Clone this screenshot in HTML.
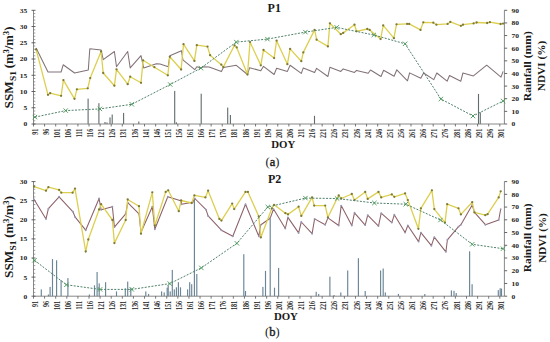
<!DOCTYPE html>
<html><head><meta charset="utf-8"><style>
html,body{margin:0;padding:0;background:#fff;}
svg{display:block;}
text{font-family:"Liberation Serif", serif;fill:#1a1a1a;}
.tl{font-size:6.5px;fill:#222;font-weight:bold;}
.xl{font-size:7.8px;}
.ti{font-size:12px;font-weight:bold;}
.doy{font-size:10.8px;font-weight:bold;}
.sub{font-size:12.5px;}
.subl{stroke:#1a1a1a;stroke-width:0.4px;}
.yl{font-size:12.2px;font-weight:bold;}
.ss{font-size:8.5px;font-weight:bold;}
.sp{font-size:8.5px;}
.rl{font-size:10.8px;font-weight:bold;}
</style></head><body>
<svg width="550" height="342" viewBox="0 0 550 342">
<rect x="87.55" y="98.60" width="1.1" height="25.40" fill="#606c6e"/>
<rect x="98.35" y="103.20" width="1.1" height="20.80" fill="#606c6e"/>
<rect x="104.45" y="122.00" width="1.1" height="2.00" fill="#606c6e"/>
<rect x="106.45" y="122.50" width="1.1" height="1.50" fill="#606c6e"/>
<rect x="109.45" y="117.40" width="1.1" height="6.60" fill="#606c6e"/>
<rect x="111.65" y="114.50" width="1.1" height="9.50" fill="#606c6e"/>
<rect x="123.05" y="112.90" width="1.1" height="11.10" fill="#606c6e"/>
<rect x="138.25" y="121.50" width="1.1" height="2.50" fill="#606c6e"/>
<rect x="174.15" y="90.90" width="1.1" height="33.10" fill="#606c6e"/>
<rect x="175.85" y="122.30" width="1.1" height="1.70" fill="#606c6e"/>
<rect x="200.65" y="93.70" width="1.1" height="30.30" fill="#606c6e"/>
<rect x="227.15" y="107.60" width="1.1" height="16.40" fill="#606c6e"/>
<rect x="229.85" y="115.00" width="1.1" height="9.00" fill="#606c6e"/>
<rect x="313.95" y="115.80" width="1.1" height="8.20" fill="#606c6e"/>
<rect x="477.95" y="93.90" width="1.1" height="30.10" fill="#606c6e"/>
<rect x="479.75" y="112.30" width="1.1" height="11.70" fill="#606c6e"/>
<path d="M33.5,10.3 V124.0 H504.4 V10.3" fill="none" stroke="#7a7a7a" stroke-width="0.9"/>
<line x1="31.5" x2="35.5" y1="124.00" y2="124.00" stroke="#555" stroke-width="0.9"/>
<text transform="translate(27.30,126.40) scale(1.15,1)" class="tl" text-anchor="end">0</text>
<line x1="33.5" x2="35.3" y1="120.75" y2="120.75" stroke="#777" stroke-width="0.7"/>
<line x1="33.5" x2="35.3" y1="117.50" y2="117.50" stroke="#777" stroke-width="0.7"/>
<line x1="33.5" x2="35.3" y1="114.25" y2="114.25" stroke="#777" stroke-width="0.7"/>
<line x1="33.5" x2="35.3" y1="111.01" y2="111.01" stroke="#777" stroke-width="0.7"/>
<line x1="31.5" x2="35.5" y1="107.76" y2="107.76" stroke="#555" stroke-width="0.9"/>
<text transform="translate(27.30,110.16) scale(1.15,1)" class="tl" text-anchor="end">5</text>
<line x1="33.5" x2="35.3" y1="104.51" y2="104.51" stroke="#777" stroke-width="0.7"/>
<line x1="33.5" x2="35.3" y1="101.26" y2="101.26" stroke="#777" stroke-width="0.7"/>
<line x1="33.5" x2="35.3" y1="98.01" y2="98.01" stroke="#777" stroke-width="0.7"/>
<line x1="33.5" x2="35.3" y1="94.76" y2="94.76" stroke="#777" stroke-width="0.7"/>
<line x1="31.5" x2="35.5" y1="91.51" y2="91.51" stroke="#555" stroke-width="0.9"/>
<text transform="translate(27.30,93.91) scale(1.15,1)" class="tl" text-anchor="end">10</text>
<line x1="33.5" x2="35.3" y1="88.27" y2="88.27" stroke="#777" stroke-width="0.7"/>
<line x1="33.5" x2="35.3" y1="85.02" y2="85.02" stroke="#777" stroke-width="0.7"/>
<line x1="33.5" x2="35.3" y1="81.77" y2="81.77" stroke="#777" stroke-width="0.7"/>
<line x1="33.5" x2="35.3" y1="78.52" y2="78.52" stroke="#777" stroke-width="0.7"/>
<line x1="31.5" x2="35.5" y1="75.27" y2="75.27" stroke="#555" stroke-width="0.9"/>
<text transform="translate(27.30,77.67) scale(1.15,1)" class="tl" text-anchor="end">15</text>
<line x1="33.5" x2="35.3" y1="72.02" y2="72.02" stroke="#777" stroke-width="0.7"/>
<line x1="33.5" x2="35.3" y1="68.77" y2="68.77" stroke="#777" stroke-width="0.7"/>
<line x1="33.5" x2="35.3" y1="65.53" y2="65.53" stroke="#777" stroke-width="0.7"/>
<line x1="33.5" x2="35.3" y1="62.28" y2="62.28" stroke="#777" stroke-width="0.7"/>
<line x1="31.5" x2="35.5" y1="59.03" y2="59.03" stroke="#555" stroke-width="0.9"/>
<text transform="translate(27.30,61.43) scale(1.15,1)" class="tl" text-anchor="end">20</text>
<line x1="33.5" x2="35.3" y1="55.78" y2="55.78" stroke="#777" stroke-width="0.7"/>
<line x1="33.5" x2="35.3" y1="52.53" y2="52.53" stroke="#777" stroke-width="0.7"/>
<line x1="33.5" x2="35.3" y1="49.28" y2="49.28" stroke="#777" stroke-width="0.7"/>
<line x1="33.5" x2="35.3" y1="46.03" y2="46.03" stroke="#777" stroke-width="0.7"/>
<line x1="31.5" x2="35.5" y1="42.79" y2="42.79" stroke="#555" stroke-width="0.9"/>
<text transform="translate(27.30,45.19) scale(1.15,1)" class="tl" text-anchor="end">25</text>
<line x1="33.5" x2="35.3" y1="39.54" y2="39.54" stroke="#777" stroke-width="0.7"/>
<line x1="33.5" x2="35.3" y1="36.29" y2="36.29" stroke="#777" stroke-width="0.7"/>
<line x1="33.5" x2="35.3" y1="33.04" y2="33.04" stroke="#777" stroke-width="0.7"/>
<line x1="33.5" x2="35.3" y1="29.79" y2="29.79" stroke="#777" stroke-width="0.7"/>
<line x1="31.5" x2="35.5" y1="26.54" y2="26.54" stroke="#555" stroke-width="0.9"/>
<text transform="translate(27.30,28.94) scale(1.15,1)" class="tl" text-anchor="end">30</text>
<line x1="33.5" x2="35.3" y1="23.29" y2="23.29" stroke="#777" stroke-width="0.7"/>
<line x1="33.5" x2="35.3" y1="20.05" y2="20.05" stroke="#777" stroke-width="0.7"/>
<line x1="33.5" x2="35.3" y1="16.80" y2="16.80" stroke="#777" stroke-width="0.7"/>
<line x1="33.5" x2="35.3" y1="13.55" y2="13.55" stroke="#777" stroke-width="0.7"/>
<line x1="31.5" x2="35.5" y1="10.30" y2="10.30" stroke="#555" stroke-width="0.9"/>
<text transform="translate(27.30,12.70) scale(1.15,1)" class="tl" text-anchor="end">35</text>
<line x1="504.4" x2="507.2" y1="124.00" y2="124.00" stroke="#555" stroke-width="0.9"/>
<text transform="translate(511.40,126.40) scale(1.15,1)" class="tl">0</text>
<line x1="504.4" x2="507.2" y1="111.37" y2="111.37" stroke="#555" stroke-width="0.9"/>
<text transform="translate(511.40,113.77) scale(1.15,1)" class="tl">10</text>
<line x1="504.4" x2="507.2" y1="98.73" y2="98.73" stroke="#555" stroke-width="0.9"/>
<text transform="translate(511.40,101.13) scale(1.15,1)" class="tl">20</text>
<line x1="504.4" x2="507.2" y1="86.10" y2="86.10" stroke="#555" stroke-width="0.9"/>
<text transform="translate(511.40,88.50) scale(1.15,1)" class="tl">30</text>
<line x1="504.4" x2="507.2" y1="73.47" y2="73.47" stroke="#555" stroke-width="0.9"/>
<text transform="translate(511.40,75.87) scale(1.15,1)" class="tl">40</text>
<line x1="504.4" x2="507.2" y1="60.83" y2="60.83" stroke="#555" stroke-width="0.9"/>
<text transform="translate(511.40,63.23) scale(1.15,1)" class="tl">50</text>
<line x1="504.4" x2="507.2" y1="48.20" y2="48.20" stroke="#555" stroke-width="0.9"/>
<text transform="translate(511.40,50.60) scale(1.15,1)" class="tl">60</text>
<line x1="504.4" x2="507.2" y1="35.57" y2="35.57" stroke="#555" stroke-width="0.9"/>
<text transform="translate(511.40,37.97) scale(1.15,1)" class="tl">70</text>
<line x1="504.4" x2="507.2" y1="22.93" y2="22.93" stroke="#555" stroke-width="0.9"/>
<text transform="translate(511.40,25.33) scale(1.15,1)" class="tl">80</text>
<line x1="504.4" x2="507.2" y1="10.30" y2="10.30" stroke="#555" stroke-width="0.9"/>
<text transform="translate(511.40,12.70) scale(1.15,1)" class="tl">90</text>
<line x1="33.50" x2="33.50" y1="124.0" y2="126.5" stroke="#555" stroke-width="0.8"/>
<text transform="translate(37.60,128.8) rotate(-90) scale(0.78,1)" class="tl xl" text-anchor="end">91</text>
<line x1="44.60" x2="44.60" y1="124.0" y2="126.5" stroke="#555" stroke-width="0.8"/>
<text transform="translate(48.70,128.8) rotate(-90) scale(0.78,1)" class="tl xl" text-anchor="end">96</text>
<line x1="55.70" x2="55.70" y1="124.0" y2="126.5" stroke="#555" stroke-width="0.8"/>
<text transform="translate(59.80,128.8) rotate(-90) scale(0.78,1)" class="tl xl" text-anchor="end">101</text>
<line x1="66.81" x2="66.81" y1="124.0" y2="126.5" stroke="#555" stroke-width="0.8"/>
<text transform="translate(70.91,128.8) rotate(-90) scale(0.78,1)" class="tl xl" text-anchor="end">106</text>
<line x1="77.91" x2="77.91" y1="124.0" y2="126.5" stroke="#555" stroke-width="0.8"/>
<text transform="translate(82.01,128.8) rotate(-90) scale(0.78,1)" class="tl xl" text-anchor="end">111</text>
<line x1="89.01" x2="89.01" y1="124.0" y2="126.5" stroke="#555" stroke-width="0.8"/>
<text transform="translate(93.11,128.8) rotate(-90) scale(0.78,1)" class="tl xl" text-anchor="end">116</text>
<line x1="100.11" x2="100.11" y1="124.0" y2="126.5" stroke="#555" stroke-width="0.8"/>
<text transform="translate(104.21,128.8) rotate(-90) scale(0.78,1)" class="tl xl" text-anchor="end">121</text>
<line x1="111.22" x2="111.22" y1="124.0" y2="126.5" stroke="#555" stroke-width="0.8"/>
<text transform="translate(115.32,128.8) rotate(-90) scale(0.78,1)" class="tl xl" text-anchor="end">126</text>
<line x1="122.32" x2="122.32" y1="124.0" y2="126.5" stroke="#555" stroke-width="0.8"/>
<text transform="translate(126.42,128.8) rotate(-90) scale(0.78,1)" class="tl xl" text-anchor="end">131</text>
<line x1="133.42" x2="133.42" y1="124.0" y2="126.5" stroke="#555" stroke-width="0.8"/>
<text transform="translate(137.52,128.8) rotate(-90) scale(0.78,1)" class="tl xl" text-anchor="end">136</text>
<line x1="144.52" x2="144.52" y1="124.0" y2="126.5" stroke="#555" stroke-width="0.8"/>
<text transform="translate(148.62,128.8) rotate(-90) scale(0.78,1)" class="tl xl" text-anchor="end">141</text>
<line x1="155.63" x2="155.63" y1="124.0" y2="126.5" stroke="#555" stroke-width="0.8"/>
<text transform="translate(159.73,128.8) rotate(-90) scale(0.78,1)" class="tl xl" text-anchor="end">146</text>
<line x1="166.73" x2="166.73" y1="124.0" y2="126.5" stroke="#555" stroke-width="0.8"/>
<text transform="translate(170.83,128.8) rotate(-90) scale(0.78,1)" class="tl xl" text-anchor="end">151</text>
<line x1="177.83" x2="177.83" y1="124.0" y2="126.5" stroke="#555" stroke-width="0.8"/>
<text transform="translate(181.93,128.8) rotate(-90) scale(0.78,1)" class="tl xl" text-anchor="end">156</text>
<line x1="188.94" x2="188.94" y1="124.0" y2="126.5" stroke="#555" stroke-width="0.8"/>
<text transform="translate(193.03,128.8) rotate(-90) scale(0.78,1)" class="tl xl" text-anchor="end">161</text>
<line x1="200.04" x2="200.04" y1="124.0" y2="126.5" stroke="#555" stroke-width="0.8"/>
<text transform="translate(204.14,128.8) rotate(-90) scale(0.78,1)" class="tl xl" text-anchor="end">166</text>
<line x1="211.14" x2="211.14" y1="124.0" y2="126.5" stroke="#555" stroke-width="0.8"/>
<text transform="translate(215.24,128.8) rotate(-90) scale(0.78,1)" class="tl xl" text-anchor="end">171</text>
<line x1="222.24" x2="222.24" y1="124.0" y2="126.5" stroke="#555" stroke-width="0.8"/>
<text transform="translate(226.34,128.8) rotate(-90) scale(0.78,1)" class="tl xl" text-anchor="end">176</text>
<line x1="233.34" x2="233.34" y1="124.0" y2="126.5" stroke="#555" stroke-width="0.8"/>
<text transform="translate(237.44,128.8) rotate(-90) scale(0.78,1)" class="tl xl" text-anchor="end">181</text>
<line x1="244.45" x2="244.45" y1="124.0" y2="126.5" stroke="#555" stroke-width="0.8"/>
<text transform="translate(248.55,128.8) rotate(-90) scale(0.78,1)" class="tl xl" text-anchor="end">186</text>
<line x1="255.55" x2="255.55" y1="124.0" y2="126.5" stroke="#555" stroke-width="0.8"/>
<text transform="translate(259.65,128.8) rotate(-90) scale(0.78,1)" class="tl xl" text-anchor="end">191</text>
<line x1="266.65" x2="266.65" y1="124.0" y2="126.5" stroke="#555" stroke-width="0.8"/>
<text transform="translate(270.75,128.8) rotate(-90) scale(0.78,1)" class="tl xl" text-anchor="end">196</text>
<line x1="277.75" x2="277.75" y1="124.0" y2="126.5" stroke="#555" stroke-width="0.8"/>
<text transform="translate(281.86,128.8) rotate(-90) scale(0.78,1)" class="tl xl" text-anchor="end">201</text>
<line x1="288.86" x2="288.86" y1="124.0" y2="126.5" stroke="#555" stroke-width="0.8"/>
<text transform="translate(292.96,128.8) rotate(-90) scale(0.78,1)" class="tl xl" text-anchor="end">206</text>
<line x1="299.96" x2="299.96" y1="124.0" y2="126.5" stroke="#555" stroke-width="0.8"/>
<text transform="translate(304.06,128.8) rotate(-90) scale(0.78,1)" class="tl xl" text-anchor="end">211</text>
<line x1="311.06" x2="311.06" y1="124.0" y2="126.5" stroke="#555" stroke-width="0.8"/>
<text transform="translate(315.16,128.8) rotate(-90) scale(0.78,1)" class="tl xl" text-anchor="end">216</text>
<line x1="322.16" x2="322.16" y1="124.0" y2="126.5" stroke="#555" stroke-width="0.8"/>
<text transform="translate(326.26,128.8) rotate(-90) scale(0.78,1)" class="tl xl" text-anchor="end">221</text>
<line x1="333.27" x2="333.27" y1="124.0" y2="126.5" stroke="#555" stroke-width="0.8"/>
<text transform="translate(337.37,128.8) rotate(-90) scale(0.78,1)" class="tl xl" text-anchor="end">226</text>
<line x1="344.37" x2="344.37" y1="124.0" y2="126.5" stroke="#555" stroke-width="0.8"/>
<text transform="translate(348.47,128.8) rotate(-90) scale(0.78,1)" class="tl xl" text-anchor="end">231</text>
<line x1="355.47" x2="355.47" y1="124.0" y2="126.5" stroke="#555" stroke-width="0.8"/>
<text transform="translate(359.57,128.8) rotate(-90) scale(0.78,1)" class="tl xl" text-anchor="end">236</text>
<line x1="366.57" x2="366.57" y1="124.0" y2="126.5" stroke="#555" stroke-width="0.8"/>
<text transform="translate(370.68,128.8) rotate(-90) scale(0.78,1)" class="tl xl" text-anchor="end">241</text>
<line x1="377.68" x2="377.68" y1="124.0" y2="126.5" stroke="#555" stroke-width="0.8"/>
<text transform="translate(381.78,128.8) rotate(-90) scale(0.78,1)" class="tl xl" text-anchor="end">246</text>
<line x1="388.78" x2="388.78" y1="124.0" y2="126.5" stroke="#555" stroke-width="0.8"/>
<text transform="translate(392.88,128.8) rotate(-90) scale(0.78,1)" class="tl xl" text-anchor="end">251</text>
<line x1="399.88" x2="399.88" y1="124.0" y2="126.5" stroke="#555" stroke-width="0.8"/>
<text transform="translate(403.98,128.8) rotate(-90) scale(0.78,1)" class="tl xl" text-anchor="end">256</text>
<line x1="410.99" x2="410.99" y1="124.0" y2="126.5" stroke="#555" stroke-width="0.8"/>
<text transform="translate(415.09,128.8) rotate(-90) scale(0.78,1)" class="tl xl" text-anchor="end">261</text>
<line x1="422.09" x2="422.09" y1="124.0" y2="126.5" stroke="#555" stroke-width="0.8"/>
<text transform="translate(426.19,128.8) rotate(-90) scale(0.78,1)" class="tl xl" text-anchor="end">266</text>
<line x1="433.19" x2="433.19" y1="124.0" y2="126.5" stroke="#555" stroke-width="0.8"/>
<text transform="translate(437.29,128.8) rotate(-90) scale(0.78,1)" class="tl xl" text-anchor="end">271</text>
<line x1="444.29" x2="444.29" y1="124.0" y2="126.5" stroke="#555" stroke-width="0.8"/>
<text transform="translate(448.39,128.8) rotate(-90) scale(0.78,1)" class="tl xl" text-anchor="end">276</text>
<line x1="455.39" x2="455.39" y1="124.0" y2="126.5" stroke="#555" stroke-width="0.8"/>
<text transform="translate(459.50,128.8) rotate(-90) scale(0.78,1)" class="tl xl" text-anchor="end">281</text>
<line x1="466.50" x2="466.50" y1="124.0" y2="126.5" stroke="#555" stroke-width="0.8"/>
<text transform="translate(470.60,128.8) rotate(-90) scale(0.78,1)" class="tl xl" text-anchor="end">286</text>
<line x1="477.60" x2="477.60" y1="124.0" y2="126.5" stroke="#555" stroke-width="0.8"/>
<text transform="translate(481.70,128.8) rotate(-90) scale(0.78,1)" class="tl xl" text-anchor="end">291</text>
<line x1="488.70" x2="488.70" y1="124.0" y2="126.5" stroke="#555" stroke-width="0.8"/>
<text transform="translate(492.80,128.8) rotate(-90) scale(0.78,1)" class="tl xl" text-anchor="end">296</text>
<line x1="499.81" x2="499.81" y1="124.0" y2="126.5" stroke="#555" stroke-width="0.8"/>
<text transform="translate(503.91,128.8) rotate(-90) scale(0.78,1)" class="tl xl" text-anchor="end">301</text>
<polyline points="36.1,48.0 48.0,72.0 61.1,72.0 63.2,64.8 74.6,73.0 88.3,69.9 89.8,48.8 101.1,49.9 103.2,59.7 114.4,51.5 116.5,66.8 127.7,51.5 130.2,67.9 141.0,55.6 143.7,67.9 156.4,63.8 160.0,64.0 168.2,66.7 169.8,55.8 181.5,50.7 182.9,59.9 194.8,69.7 196.8,66.7 200.9,68.1 203.0,66.7 209.1,67.1 221.4,71.6 223.4,67.5 236.3,65.3 247.5,74.5 249.6,67.7 260.8,70.8 263.5,66.3 274.1,74.5 276.6,68.3 287.4,71.4 290.1,65.3 301.3,73.4 303.3,67.9 314.6,72.4 316.6,68.3 327.9,76.5 329.9,67.3 340.8,71.4 343.2,68.9 354.5,72.4 356.5,70.4 368.2,73.3 370.5,70.0 381.0,76.5 383.6,70.3 394.1,76.3 396.8,69.8 407.5,80.8 409.6,72.9 420.8,78.3 423.6,73.0 433.8,79.6 436.8,73.0 447.1,81.2 449.5,75.5 460.8,81.2 462.9,73.0 473.4,75.9 486.7,65.2 501.0,77.1 503.1,71.4" fill="none" stroke="#827276" stroke-width="1.05" stroke-linejoin="round"/>
<polyline points="36.1,49.4 48.0,94.8 50.2,93.2 61.1,95.8 63.4,80.1 74.5,98.8 76.9,89.3 87.7,88.3 90.2,78.1 101.1,51.5 103.2,73.0 114.4,85.7 116.5,69.3 127.7,84.2 130.2,76.7 141.0,82.8 143.1,60.3 154.4,67.2 167.8,75.3 169.8,56.8 181.1,69.5 183.5,44.2 194.4,60.9 196.8,45.2 207.5,46.6 210.1,55.2 221.3,64.7 223.3,67.1 234.5,45.3 236.7,47.4 247.5,74.5 250.0,42.1 260.8,65.3 263.5,49.9 274.1,58.1 276.6,40.7 287.4,64.2 290.1,48.9 301.3,61.2 303.3,52.4 314.6,29.9 316.6,39.7 327.9,46.4 329.9,23.3 340.8,34.2 343.2,32.9 354.5,24.7 356.5,31.3 367.3,29.0 369.7,29.9 380.6,39.1 383.2,25.4 393.9,38.2 396.5,24.3 407.2,23.9 409.2,23.9 420.5,29.9 423.3,22.3 433.3,22.7 436.4,24.7 447.6,23.9 450.3,21.9 460.9,25.8 463.0,24.7 473.6,23.4 476.6,22.5 487.2,23.0 489.9,22.2 500.6,24.0 503.1,23.6" fill="none" stroke="#dccf50" stroke-width="1.3" stroke-linejoin="round"/>
<circle cx="36.1" cy="49.4" r="1.15" fill="#7e7a34"/>
<circle cx="48" cy="94.8" r="1.15" fill="#7e7a34"/>
<circle cx="50.2" cy="93.2" r="1.15" fill="#7e7a34"/>
<circle cx="61.1" cy="95.8" r="1.15" fill="#7e7a34"/>
<circle cx="63.4" cy="80.1" r="1.15" fill="#7e7a34"/>
<circle cx="74.5" cy="98.8" r="1.15" fill="#7e7a34"/>
<circle cx="76.9" cy="89.3" r="1.15" fill="#7e7a34"/>
<circle cx="87.7" cy="88.3" r="1.15" fill="#7e7a34"/>
<circle cx="90.2" cy="78.1" r="1.15" fill="#7e7a34"/>
<circle cx="101.1" cy="51.5" r="1.15" fill="#7e7a34"/>
<circle cx="103.2" cy="73" r="1.15" fill="#7e7a34"/>
<circle cx="114.4" cy="85.7" r="1.15" fill="#7e7a34"/>
<circle cx="116.5" cy="69.3" r="1.15" fill="#7e7a34"/>
<circle cx="127.7" cy="84.2" r="1.15" fill="#7e7a34"/>
<circle cx="130.2" cy="76.7" r="1.15" fill="#7e7a34"/>
<circle cx="141" cy="82.8" r="1.15" fill="#7e7a34"/>
<circle cx="143.1" cy="60.3" r="1.15" fill="#7e7a34"/>
<circle cx="154.4" cy="67.2" r="1.15" fill="#7e7a34"/>
<circle cx="167.8" cy="75.3" r="1.15" fill="#7e7a34"/>
<circle cx="169.8" cy="56.8" r="1.15" fill="#7e7a34"/>
<circle cx="181.1" cy="69.5" r="1.15" fill="#7e7a34"/>
<circle cx="183.5" cy="44.2" r="1.15" fill="#7e7a34"/>
<circle cx="194.4" cy="60.9" r="1.15" fill="#7e7a34"/>
<circle cx="196.8" cy="45.2" r="1.15" fill="#7e7a34"/>
<circle cx="207.5" cy="46.6" r="1.15" fill="#7e7a34"/>
<circle cx="210.1" cy="55.2" r="1.15" fill="#7e7a34"/>
<circle cx="221.3" cy="64.7" r="1.15" fill="#7e7a34"/>
<circle cx="223.3" cy="67.1" r="1.15" fill="#7e7a34"/>
<circle cx="234.5" cy="45.3" r="1.15" fill="#7e7a34"/>
<circle cx="236.7" cy="47.4" r="1.15" fill="#7e7a34"/>
<circle cx="247.5" cy="74.5" r="1.15" fill="#7e7a34"/>
<circle cx="250" cy="42.1" r="1.15" fill="#7e7a34"/>
<circle cx="260.8" cy="65.3" r="1.15" fill="#7e7a34"/>
<circle cx="263.5" cy="49.9" r="1.15" fill="#7e7a34"/>
<circle cx="274.1" cy="58.1" r="1.15" fill="#7e7a34"/>
<circle cx="276.6" cy="40.7" r="1.15" fill="#7e7a34"/>
<circle cx="287.4" cy="64.2" r="1.15" fill="#7e7a34"/>
<circle cx="290.1" cy="48.9" r="1.15" fill="#7e7a34"/>
<circle cx="301.3" cy="61.2" r="1.15" fill="#7e7a34"/>
<circle cx="303.3" cy="52.4" r="1.15" fill="#7e7a34"/>
<circle cx="314.6" cy="29.9" r="1.15" fill="#7e7a34"/>
<circle cx="316.6" cy="39.7" r="1.15" fill="#7e7a34"/>
<circle cx="327.9" cy="46.4" r="1.15" fill="#7e7a34"/>
<circle cx="329.9" cy="23.3" r="1.15" fill="#7e7a34"/>
<circle cx="340.8" cy="34.2" r="1.15" fill="#7e7a34"/>
<circle cx="343.2" cy="32.9" r="1.15" fill="#7e7a34"/>
<circle cx="354.5" cy="24.7" r="1.15" fill="#7e7a34"/>
<circle cx="356.5" cy="31.3" r="1.15" fill="#7e7a34"/>
<circle cx="367.3" cy="29" r="1.15" fill="#7e7a34"/>
<circle cx="369.7" cy="29.9" r="1.15" fill="#7e7a34"/>
<circle cx="380.6" cy="39.1" r="1.15" fill="#7e7a34"/>
<circle cx="383.2" cy="25.4" r="1.15" fill="#7e7a34"/>
<circle cx="393.9" cy="38.2" r="1.15" fill="#7e7a34"/>
<circle cx="396.5" cy="24.3" r="1.15" fill="#7e7a34"/>
<circle cx="407.2" cy="23.9" r="1.15" fill="#7e7a34"/>
<circle cx="409.2" cy="23.9" r="1.15" fill="#7e7a34"/>
<circle cx="420.5" cy="29.9" r="1.15" fill="#7e7a34"/>
<circle cx="423.3" cy="22.3" r="1.15" fill="#7e7a34"/>
<circle cx="433.3" cy="22.7" r="1.15" fill="#7e7a34"/>
<circle cx="436.4" cy="24.7" r="1.15" fill="#7e7a34"/>
<circle cx="447.6" cy="23.9" r="1.15" fill="#7e7a34"/>
<circle cx="450.3" cy="21.9" r="1.15" fill="#7e7a34"/>
<circle cx="460.9" cy="25.8" r="1.15" fill="#7e7a34"/>
<circle cx="463" cy="24.7" r="1.15" fill="#7e7a34"/>
<circle cx="473.6" cy="23.4" r="1.15" fill="#7e7a34"/>
<circle cx="476.6" cy="22.5" r="1.15" fill="#7e7a34"/>
<circle cx="487.2" cy="23" r="1.15" fill="#7e7a34"/>
<circle cx="489.9" cy="22.2" r="1.15" fill="#7e7a34"/>
<circle cx="500.6" cy="24" r="1.15" fill="#7e7a34"/>
<circle cx="503.1" cy="23.6" r="1.15" fill="#7e7a34"/>
<polyline points="34.9,117.1 65.7,110.6 99.9,108.9 131.8,104.3 170.2,84.5 200.9,68.1 236.3,42.1 267.4,39.1 305.4,32.1 336.7,27.4 373.8,35.0 405.1,43.8 440.9,99.0 473.0,116.0 503.1,101.0" fill="none" stroke="#4f8068" stroke-width="1.0" stroke-dasharray="2,1.4"/>
<path d="M32.699999999999996,114.89999999999999L37.1,119.3M32.699999999999996,119.3L37.1,114.89999999999999" stroke="#459555" stroke-width="0.9"/>
<path d="M63.5,108.39999999999999L67.9,112.8M63.5,112.8L67.9,108.39999999999999" stroke="#459555" stroke-width="0.9"/>
<path d="M97.7,106.7L102.10000000000001,111.10000000000001M97.7,111.10000000000001L102.10000000000001,106.7" stroke="#459555" stroke-width="0.9"/>
<path d="M129.60000000000002,102.1L134.0,106.5M129.60000000000002,106.5L134.0,102.1" stroke="#459555" stroke-width="0.9"/>
<path d="M168.0,82.3L172.39999999999998,86.7M168.0,86.7L172.39999999999998,82.3" stroke="#459555" stroke-width="0.9"/>
<path d="M198.70000000000002,65.89999999999999L203.1,70.3M198.70000000000002,70.3L203.1,65.89999999999999" stroke="#459555" stroke-width="0.9"/>
<path d="M234.10000000000002,39.9L238.5,44.300000000000004M234.10000000000002,44.300000000000004L238.5,39.9" stroke="#459555" stroke-width="0.9"/>
<path d="M265.2,36.9L269.59999999999997,41.300000000000004M265.2,41.300000000000004L269.59999999999997,36.9" stroke="#459555" stroke-width="0.9"/>
<path d="M303.2,29.900000000000002L307.59999999999997,34.300000000000004M303.2,34.300000000000004L307.59999999999997,29.900000000000002" stroke="#459555" stroke-width="0.9"/>
<path d="M334.5,25.2L338.9,29.599999999999998M334.5,29.599999999999998L338.9,25.2" stroke="#459555" stroke-width="0.9"/>
<path d="M371.6,32.8L376.0,37.2M371.6,37.2L376.0,32.8" stroke="#459555" stroke-width="0.9"/>
<path d="M402.90000000000003,41.599999999999994L407.3,46.0M402.90000000000003,46.0L407.3,41.599999999999994" stroke="#459555" stroke-width="0.9"/>
<path d="M438.7,96.8L443.09999999999997,101.2M438.7,101.2L443.09999999999997,96.8" stroke="#459555" stroke-width="0.9"/>
<path d="M470.8,113.8L475.2,118.2M470.8,118.2L475.2,113.8" stroke="#459555" stroke-width="0.9"/>
<path d="M500.90000000000003,98.8L505.3,103.2M500.90000000000003,103.2L505.3,98.8" stroke="#459555" stroke-width="0.9"/>
<text x="267.6" y="11.8" class="ti">P1</text>
<text x="271.2" y="148.3" class="doy">DOY</text>
<text x="265.6" y="166.0" class="sub">(<tspan class="subl">a</tspan>)</text>
<text transform="translate(12.7,108.50) rotate(-90)" class="yl" textLength="27.3" lengthAdjust="spacingAndGlyphs">SSM</text>
<text transform="translate(15.9,80.90) rotate(-90)" class="ss" textLength="10.0" lengthAdjust="spacingAndGlyphs">S1</text>
<text transform="translate(12.8,68.20) rotate(-90)" class="yl" textLength="41.6" lengthAdjust="spacingAndGlyphs">(m<tspan class="sp" dy="-3.8">3</tspan><tspan dy="3.8">/m</tspan><tspan class="sp" dy="-3.8">3</tspan><tspan dy="3.8">)</tspan></text>
<text transform="translate(531.3,66.2) rotate(-90) scale(1.075,1)" class="rl" text-anchor="middle">Rainfall (mm)</text>
<text transform="translate(545.4,66.0) rotate(-90) scale(1.042,1)" class="rl" text-anchor="middle">NDVI (%)</text>
<rect x="40.72" y="289.40" width="1.15" height="6.80" fill="#6a8596"/>
<rect x="47.82" y="294.50" width="1.15" height="1.70" fill="#6a8596"/>
<rect x="49.52" y="286.90" width="1.15" height="9.30" fill="#6a8596"/>
<rect x="51.92" y="259.10" width="1.15" height="37.10" fill="#6a8596"/>
<rect x="56.02" y="260.30" width="1.15" height="35.90" fill="#6a8596"/>
<rect x="60.52" y="280.10" width="1.15" height="16.10" fill="#6a8596"/>
<rect x="67.33" y="278.10" width="1.15" height="18.10" fill="#6a8596"/>
<rect x="88.83" y="294.50" width="1.15" height="1.70" fill="#6a8596"/>
<rect x="93.92" y="285.30" width="1.15" height="10.90" fill="#6a8596"/>
<rect x="96.52" y="272.00" width="1.15" height="24.20" fill="#6a8596"/>
<rect x="98.62" y="283.40" width="1.15" height="12.80" fill="#6a8596"/>
<rect x="105.02" y="282.20" width="1.15" height="14.00" fill="#6a8596"/>
<rect x="115.92" y="291.40" width="1.15" height="4.80" fill="#6a8596"/>
<rect x="124.72" y="288.30" width="1.15" height="7.90" fill="#6a8596"/>
<rect x="127.12" y="281.60" width="1.15" height="14.60" fill="#6a8596"/>
<rect x="130.23" y="287.70" width="1.15" height="8.50" fill="#6a8596"/>
<rect x="145.23" y="291.40" width="1.15" height="4.80" fill="#6a8596"/>
<rect x="148.03" y="293.90" width="1.15" height="2.30" fill="#6a8596"/>
<rect x="161.03" y="291.40" width="1.15" height="4.80" fill="#6a8596"/>
<rect x="163.62" y="292.40" width="1.15" height="3.80" fill="#6a8596"/>
<rect x="166.62" y="287.70" width="1.15" height="8.50" fill="#6a8596"/>
<rect x="167.62" y="285.30" width="1.15" height="10.90" fill="#6a8596"/>
<rect x="169.62" y="291.40" width="1.15" height="4.80" fill="#6a8596"/>
<rect x="171.73" y="269.90" width="1.15" height="26.30" fill="#6a8596"/>
<rect x="173.73" y="289.40" width="1.15" height="6.80" fill="#6a8596"/>
<rect x="175.83" y="287.30" width="1.15" height="8.90" fill="#6a8596"/>
<rect x="177.83" y="282.20" width="1.15" height="14.00" fill="#6a8596"/>
<rect x="179.93" y="287.30" width="1.15" height="8.90" fill="#6a8596"/>
<rect x="187.03" y="289.40" width="1.15" height="6.80" fill="#6a8596"/>
<rect x="189.12" y="282.20" width="1.15" height="14.00" fill="#6a8596"/>
<rect x="191.12" y="284.20" width="1.15" height="12.00" fill="#6a8596"/>
<rect x="193.83" y="198.50" width="1.15" height="97.70" fill="#6a8596"/>
<rect x="196.23" y="274.00" width="1.15" height="22.20" fill="#6a8596"/>
<rect x="243.23" y="254.20" width="1.15" height="42.00" fill="#6a8596"/>
<rect x="244.93" y="291.00" width="1.15" height="5.20" fill="#6a8596"/>
<rect x="262.32" y="286.90" width="1.15" height="9.30" fill="#6a8596"/>
<rect x="264.93" y="270.90" width="1.15" height="25.30" fill="#6a8596"/>
<rect x="269.62" y="217.50" width="1.15" height="78.70" fill="#6a8596"/>
<rect x="273.93" y="287.70" width="1.15" height="8.50" fill="#6a8596"/>
<rect x="278.03" y="267.90" width="1.15" height="28.30" fill="#6a8596"/>
<rect x="315.62" y="291.80" width="1.15" height="4.40" fill="#6a8596"/>
<rect x="318.12" y="293.90" width="1.15" height="2.30" fill="#6a8596"/>
<rect x="329.32" y="276.70" width="1.15" height="19.50" fill="#6a8596"/>
<rect x="333.43" y="295.00" width="1.15" height="1.20" fill="#6a8596"/>
<rect x="340.23" y="292.40" width="1.15" height="3.80" fill="#6a8596"/>
<rect x="347.12" y="270.50" width="1.15" height="25.70" fill="#6a8596"/>
<rect x="357.82" y="258.20" width="1.15" height="38.00" fill="#6a8596"/>
<rect x="364.62" y="291.00" width="1.15" height="5.20" fill="#6a8596"/>
<rect x="380.03" y="270.50" width="1.15" height="25.70" fill="#6a8596"/>
<rect x="382.62" y="268.50" width="1.15" height="27.70" fill="#6a8596"/>
<rect x="384.73" y="292.40" width="1.15" height="3.80" fill="#6a8596"/>
<rect x="397.82" y="293.90" width="1.15" height="2.30" fill="#6a8596"/>
<rect x="424.23" y="294.00" width="1.15" height="2.20" fill="#6a8596"/>
<rect x="450.82" y="290.40" width="1.15" height="5.80" fill="#6a8596"/>
<rect x="453.43" y="290.80" width="1.15" height="5.40" fill="#6a8596"/>
<rect x="455.62" y="293.00" width="1.15" height="3.20" fill="#6a8596"/>
<rect x="469.03" y="251.30" width="1.15" height="44.90" fill="#6a8596"/>
<rect x="471.53" y="284.20" width="1.15" height="12.00" fill="#6a8596"/>
<rect x="497.73" y="290.10" width="1.15" height="6.10" fill="#6a8596"/>
<rect x="499.62" y="288.20" width="1.15" height="8.00" fill="#6a8596"/>
<rect x="500.93" y="288.60" width="1.15" height="7.60" fill="#6a8596"/>
<path d="M33.5,181.6 V296.2 H504.4 V181.6" fill="none" stroke="#7a7a7a" stroke-width="0.9"/>
<line x1="31.5" x2="35.5" y1="296.20" y2="296.20" stroke="#555" stroke-width="0.9"/>
<text transform="translate(27.30,298.60) scale(1.15,1)" class="tl" text-anchor="end">0</text>
<line x1="33.5" x2="35.3" y1="292.38" y2="292.38" stroke="#777" stroke-width="0.7"/>
<line x1="33.5" x2="35.3" y1="288.56" y2="288.56" stroke="#777" stroke-width="0.7"/>
<line x1="33.5" x2="35.3" y1="284.74" y2="284.74" stroke="#777" stroke-width="0.7"/>
<line x1="33.5" x2="35.3" y1="280.92" y2="280.92" stroke="#777" stroke-width="0.7"/>
<line x1="31.5" x2="35.5" y1="277.10" y2="277.10" stroke="#555" stroke-width="0.9"/>
<text transform="translate(27.30,279.50) scale(1.15,1)" class="tl" text-anchor="end">5</text>
<line x1="33.5" x2="35.3" y1="273.28" y2="273.28" stroke="#777" stroke-width="0.7"/>
<line x1="33.5" x2="35.3" y1="269.46" y2="269.46" stroke="#777" stroke-width="0.7"/>
<line x1="33.5" x2="35.3" y1="265.64" y2="265.64" stroke="#777" stroke-width="0.7"/>
<line x1="33.5" x2="35.3" y1="261.82" y2="261.82" stroke="#777" stroke-width="0.7"/>
<line x1="31.5" x2="35.5" y1="258.00" y2="258.00" stroke="#555" stroke-width="0.9"/>
<text transform="translate(27.30,260.40) scale(1.15,1)" class="tl" text-anchor="end">10</text>
<line x1="33.5" x2="35.3" y1="254.18" y2="254.18" stroke="#777" stroke-width="0.7"/>
<line x1="33.5" x2="35.3" y1="250.36" y2="250.36" stroke="#777" stroke-width="0.7"/>
<line x1="33.5" x2="35.3" y1="246.54" y2="246.54" stroke="#777" stroke-width="0.7"/>
<line x1="33.5" x2="35.3" y1="242.72" y2="242.72" stroke="#777" stroke-width="0.7"/>
<line x1="31.5" x2="35.5" y1="238.90" y2="238.90" stroke="#555" stroke-width="0.9"/>
<text transform="translate(27.30,241.30) scale(1.15,1)" class="tl" text-anchor="end">15</text>
<line x1="33.5" x2="35.3" y1="235.08" y2="235.08" stroke="#777" stroke-width="0.7"/>
<line x1="33.5" x2="35.3" y1="231.26" y2="231.26" stroke="#777" stroke-width="0.7"/>
<line x1="33.5" x2="35.3" y1="227.44" y2="227.44" stroke="#777" stroke-width="0.7"/>
<line x1="33.5" x2="35.3" y1="223.62" y2="223.62" stroke="#777" stroke-width="0.7"/>
<line x1="31.5" x2="35.5" y1="219.80" y2="219.80" stroke="#555" stroke-width="0.9"/>
<text transform="translate(27.30,222.20) scale(1.15,1)" class="tl" text-anchor="end">20</text>
<line x1="33.5" x2="35.3" y1="215.98" y2="215.98" stroke="#777" stroke-width="0.7"/>
<line x1="33.5" x2="35.3" y1="212.16" y2="212.16" stroke="#777" stroke-width="0.7"/>
<line x1="33.5" x2="35.3" y1="208.34" y2="208.34" stroke="#777" stroke-width="0.7"/>
<line x1="33.5" x2="35.3" y1="204.52" y2="204.52" stroke="#777" stroke-width="0.7"/>
<line x1="31.5" x2="35.5" y1="200.70" y2="200.70" stroke="#555" stroke-width="0.9"/>
<text transform="translate(27.30,203.10) scale(1.15,1)" class="tl" text-anchor="end">25</text>
<line x1="33.5" x2="35.3" y1="196.88" y2="196.88" stroke="#777" stroke-width="0.7"/>
<line x1="33.5" x2="35.3" y1="193.06" y2="193.06" stroke="#777" stroke-width="0.7"/>
<line x1="33.5" x2="35.3" y1="189.24" y2="189.24" stroke="#777" stroke-width="0.7"/>
<line x1="33.5" x2="35.3" y1="185.42" y2="185.42" stroke="#777" stroke-width="0.7"/>
<line x1="31.5" x2="35.5" y1="181.60" y2="181.60" stroke="#555" stroke-width="0.9"/>
<text transform="translate(27.30,184.00) scale(1.15,1)" class="tl" text-anchor="end">30</text>
<line x1="504.4" x2="507.2" y1="296.20" y2="296.20" stroke="#555" stroke-width="0.9"/>
<text transform="translate(511.40,298.60) scale(1.15,1)" class="tl">0</text>
<line x1="504.4" x2="507.2" y1="283.47" y2="283.47" stroke="#555" stroke-width="0.9"/>
<text transform="translate(511.40,285.87) scale(1.15,1)" class="tl">10</text>
<line x1="504.4" x2="507.2" y1="270.73" y2="270.73" stroke="#555" stroke-width="0.9"/>
<text transform="translate(511.40,273.13) scale(1.15,1)" class="tl">20</text>
<line x1="504.4" x2="507.2" y1="258.00" y2="258.00" stroke="#555" stroke-width="0.9"/>
<text transform="translate(511.40,260.40) scale(1.15,1)" class="tl">30</text>
<line x1="504.4" x2="507.2" y1="245.27" y2="245.27" stroke="#555" stroke-width="0.9"/>
<text transform="translate(511.40,247.67) scale(1.15,1)" class="tl">40</text>
<line x1="504.4" x2="507.2" y1="232.53" y2="232.53" stroke="#555" stroke-width="0.9"/>
<text transform="translate(511.40,234.93) scale(1.15,1)" class="tl">50</text>
<line x1="504.4" x2="507.2" y1="219.80" y2="219.80" stroke="#555" stroke-width="0.9"/>
<text transform="translate(511.40,222.20) scale(1.15,1)" class="tl">60</text>
<line x1="504.4" x2="507.2" y1="207.07" y2="207.07" stroke="#555" stroke-width="0.9"/>
<text transform="translate(511.40,209.47) scale(1.15,1)" class="tl">70</text>
<line x1="504.4" x2="507.2" y1="194.33" y2="194.33" stroke="#555" stroke-width="0.9"/>
<text transform="translate(511.40,196.73) scale(1.15,1)" class="tl">80</text>
<line x1="504.4" x2="507.2" y1="181.60" y2="181.60" stroke="#555" stroke-width="0.9"/>
<text transform="translate(511.40,184.00) scale(1.15,1)" class="tl">90</text>
<line x1="33.50" x2="33.50" y1="296.2" y2="298.7" stroke="#555" stroke-width="0.8"/>
<text transform="translate(37.60,301.0) rotate(-90) scale(0.78,1)" class="tl xl" text-anchor="end">91</text>
<line x1="44.60" x2="44.60" y1="296.2" y2="298.7" stroke="#555" stroke-width="0.8"/>
<text transform="translate(48.70,301.0) rotate(-90) scale(0.78,1)" class="tl xl" text-anchor="end">96</text>
<line x1="55.70" x2="55.70" y1="296.2" y2="298.7" stroke="#555" stroke-width="0.8"/>
<text transform="translate(59.80,301.0) rotate(-90) scale(0.78,1)" class="tl xl" text-anchor="end">101</text>
<line x1="66.81" x2="66.81" y1="296.2" y2="298.7" stroke="#555" stroke-width="0.8"/>
<text transform="translate(70.91,301.0) rotate(-90) scale(0.78,1)" class="tl xl" text-anchor="end">106</text>
<line x1="77.91" x2="77.91" y1="296.2" y2="298.7" stroke="#555" stroke-width="0.8"/>
<text transform="translate(82.01,301.0) rotate(-90) scale(0.78,1)" class="tl xl" text-anchor="end">111</text>
<line x1="89.01" x2="89.01" y1="296.2" y2="298.7" stroke="#555" stroke-width="0.8"/>
<text transform="translate(93.11,301.0) rotate(-90) scale(0.78,1)" class="tl xl" text-anchor="end">116</text>
<line x1="100.11" x2="100.11" y1="296.2" y2="298.7" stroke="#555" stroke-width="0.8"/>
<text transform="translate(104.21,301.0) rotate(-90) scale(0.78,1)" class="tl xl" text-anchor="end">121</text>
<line x1="111.22" x2="111.22" y1="296.2" y2="298.7" stroke="#555" stroke-width="0.8"/>
<text transform="translate(115.32,301.0) rotate(-90) scale(0.78,1)" class="tl xl" text-anchor="end">126</text>
<line x1="122.32" x2="122.32" y1="296.2" y2="298.7" stroke="#555" stroke-width="0.8"/>
<text transform="translate(126.42,301.0) rotate(-90) scale(0.78,1)" class="tl xl" text-anchor="end">131</text>
<line x1="133.42" x2="133.42" y1="296.2" y2="298.7" stroke="#555" stroke-width="0.8"/>
<text transform="translate(137.52,301.0) rotate(-90) scale(0.78,1)" class="tl xl" text-anchor="end">136</text>
<line x1="144.52" x2="144.52" y1="296.2" y2="298.7" stroke="#555" stroke-width="0.8"/>
<text transform="translate(148.62,301.0) rotate(-90) scale(0.78,1)" class="tl xl" text-anchor="end">141</text>
<line x1="155.63" x2="155.63" y1="296.2" y2="298.7" stroke="#555" stroke-width="0.8"/>
<text transform="translate(159.73,301.0) rotate(-90) scale(0.78,1)" class="tl xl" text-anchor="end">146</text>
<line x1="166.73" x2="166.73" y1="296.2" y2="298.7" stroke="#555" stroke-width="0.8"/>
<text transform="translate(170.83,301.0) rotate(-90) scale(0.78,1)" class="tl xl" text-anchor="end">151</text>
<line x1="177.83" x2="177.83" y1="296.2" y2="298.7" stroke="#555" stroke-width="0.8"/>
<text transform="translate(181.93,301.0) rotate(-90) scale(0.78,1)" class="tl xl" text-anchor="end">156</text>
<line x1="188.94" x2="188.94" y1="296.2" y2="298.7" stroke="#555" stroke-width="0.8"/>
<text transform="translate(193.03,301.0) rotate(-90) scale(0.78,1)" class="tl xl" text-anchor="end">161</text>
<line x1="200.04" x2="200.04" y1="296.2" y2="298.7" stroke="#555" stroke-width="0.8"/>
<text transform="translate(204.14,301.0) rotate(-90) scale(0.78,1)" class="tl xl" text-anchor="end">166</text>
<line x1="211.14" x2="211.14" y1="296.2" y2="298.7" stroke="#555" stroke-width="0.8"/>
<text transform="translate(215.24,301.0) rotate(-90) scale(0.78,1)" class="tl xl" text-anchor="end">171</text>
<line x1="222.24" x2="222.24" y1="296.2" y2="298.7" stroke="#555" stroke-width="0.8"/>
<text transform="translate(226.34,301.0) rotate(-90) scale(0.78,1)" class="tl xl" text-anchor="end">176</text>
<line x1="233.34" x2="233.34" y1="296.2" y2="298.7" stroke="#555" stroke-width="0.8"/>
<text transform="translate(237.44,301.0) rotate(-90) scale(0.78,1)" class="tl xl" text-anchor="end">181</text>
<line x1="244.45" x2="244.45" y1="296.2" y2="298.7" stroke="#555" stroke-width="0.8"/>
<text transform="translate(248.55,301.0) rotate(-90) scale(0.78,1)" class="tl xl" text-anchor="end">186</text>
<line x1="255.55" x2="255.55" y1="296.2" y2="298.7" stroke="#555" stroke-width="0.8"/>
<text transform="translate(259.65,301.0) rotate(-90) scale(0.78,1)" class="tl xl" text-anchor="end">191</text>
<line x1="266.65" x2="266.65" y1="296.2" y2="298.7" stroke="#555" stroke-width="0.8"/>
<text transform="translate(270.75,301.0) rotate(-90) scale(0.78,1)" class="tl xl" text-anchor="end">196</text>
<line x1="277.75" x2="277.75" y1="296.2" y2="298.7" stroke="#555" stroke-width="0.8"/>
<text transform="translate(281.86,301.0) rotate(-90) scale(0.78,1)" class="tl xl" text-anchor="end">201</text>
<line x1="288.86" x2="288.86" y1="296.2" y2="298.7" stroke="#555" stroke-width="0.8"/>
<text transform="translate(292.96,301.0) rotate(-90) scale(0.78,1)" class="tl xl" text-anchor="end">206</text>
<line x1="299.96" x2="299.96" y1="296.2" y2="298.7" stroke="#555" stroke-width="0.8"/>
<text transform="translate(304.06,301.0) rotate(-90) scale(0.78,1)" class="tl xl" text-anchor="end">211</text>
<line x1="311.06" x2="311.06" y1="296.2" y2="298.7" stroke="#555" stroke-width="0.8"/>
<text transform="translate(315.16,301.0) rotate(-90) scale(0.78,1)" class="tl xl" text-anchor="end">216</text>
<line x1="322.16" x2="322.16" y1="296.2" y2="298.7" stroke="#555" stroke-width="0.8"/>
<text transform="translate(326.26,301.0) rotate(-90) scale(0.78,1)" class="tl xl" text-anchor="end">221</text>
<line x1="333.27" x2="333.27" y1="296.2" y2="298.7" stroke="#555" stroke-width="0.8"/>
<text transform="translate(337.37,301.0) rotate(-90) scale(0.78,1)" class="tl xl" text-anchor="end">226</text>
<line x1="344.37" x2="344.37" y1="296.2" y2="298.7" stroke="#555" stroke-width="0.8"/>
<text transform="translate(348.47,301.0) rotate(-90) scale(0.78,1)" class="tl xl" text-anchor="end">231</text>
<line x1="355.47" x2="355.47" y1="296.2" y2="298.7" stroke="#555" stroke-width="0.8"/>
<text transform="translate(359.57,301.0) rotate(-90) scale(0.78,1)" class="tl xl" text-anchor="end">236</text>
<line x1="366.57" x2="366.57" y1="296.2" y2="298.7" stroke="#555" stroke-width="0.8"/>
<text transform="translate(370.68,301.0) rotate(-90) scale(0.78,1)" class="tl xl" text-anchor="end">241</text>
<line x1="377.68" x2="377.68" y1="296.2" y2="298.7" stroke="#555" stroke-width="0.8"/>
<text transform="translate(381.78,301.0) rotate(-90) scale(0.78,1)" class="tl xl" text-anchor="end">246</text>
<line x1="388.78" x2="388.78" y1="296.2" y2="298.7" stroke="#555" stroke-width="0.8"/>
<text transform="translate(392.88,301.0) rotate(-90) scale(0.78,1)" class="tl xl" text-anchor="end">251</text>
<line x1="399.88" x2="399.88" y1="296.2" y2="298.7" stroke="#555" stroke-width="0.8"/>
<text transform="translate(403.98,301.0) rotate(-90) scale(0.78,1)" class="tl xl" text-anchor="end">256</text>
<line x1="410.99" x2="410.99" y1="296.2" y2="298.7" stroke="#555" stroke-width="0.8"/>
<text transform="translate(415.09,301.0) rotate(-90) scale(0.78,1)" class="tl xl" text-anchor="end">261</text>
<line x1="422.09" x2="422.09" y1="296.2" y2="298.7" stroke="#555" stroke-width="0.8"/>
<text transform="translate(426.19,301.0) rotate(-90) scale(0.78,1)" class="tl xl" text-anchor="end">266</text>
<line x1="433.19" x2="433.19" y1="296.2" y2="298.7" stroke="#555" stroke-width="0.8"/>
<text transform="translate(437.29,301.0) rotate(-90) scale(0.78,1)" class="tl xl" text-anchor="end">271</text>
<line x1="444.29" x2="444.29" y1="296.2" y2="298.7" stroke="#555" stroke-width="0.8"/>
<text transform="translate(448.39,301.0) rotate(-90) scale(0.78,1)" class="tl xl" text-anchor="end">276</text>
<line x1="455.39" x2="455.39" y1="296.2" y2="298.7" stroke="#555" stroke-width="0.8"/>
<text transform="translate(459.50,301.0) rotate(-90) scale(0.78,1)" class="tl xl" text-anchor="end">281</text>
<line x1="466.50" x2="466.50" y1="296.2" y2="298.7" stroke="#555" stroke-width="0.8"/>
<text transform="translate(470.60,301.0) rotate(-90) scale(0.78,1)" class="tl xl" text-anchor="end">286</text>
<line x1="477.60" x2="477.60" y1="296.2" y2="298.7" stroke="#555" stroke-width="0.8"/>
<text transform="translate(481.70,301.0) rotate(-90) scale(0.78,1)" class="tl xl" text-anchor="end">291</text>
<line x1="488.70" x2="488.70" y1="296.2" y2="298.7" stroke="#555" stroke-width="0.8"/>
<text transform="translate(492.80,301.0) rotate(-90) scale(0.78,1)" class="tl xl" text-anchor="end">296</text>
<line x1="499.81" x2="499.81" y1="296.2" y2="298.7" stroke="#555" stroke-width="0.8"/>
<text transform="translate(503.91,301.0) rotate(-90) scale(0.78,1)" class="tl xl" text-anchor="end">301</text>
<polyline points="34.1,199.5 46.0,218.9 48.4,208.7 59.1,196.8 73.0,211.8 75.0,216.9 85.7,230.2 99.1,198.5 101.1,209.7 112.4,206.7 114.4,227.1 125.7,213.8 127.7,202.6 139.0,213.8 141.0,232.2 152.3,206.7 154.8,229.2 167.8,196.8 181.5,200.9 181.5,204.2 192.7,202.2 194.8,198.5 206.0,209.7 208.1,215.9 221.4,230.2 232.8,236.3 245.5,204.2 258.8,236.3 260.6,225.0 270.2,218.2 273.5,209.1 285.3,228.5 287.9,217.4 298.6,232.9 301.3,222.0 312.1,233.7 314.6,218.9 325.2,224.7 327.9,217.9 338.7,225.5 341.2,205.6 351.8,225.5 354.5,212.8 365.2,225.1 367.7,215.2 378.5,226.1 381.2,213.2 391.8,222.6 394.3,214.8 405.1,232.6 407.8,225.5 418.6,241.6 420.9,232.7 431.4,245.7 434.3,237.2 445.9,251.8 447.4,239.8 458.5,226.7 460.9,224.7 472.2,205.0 474.5,212.3 485.4,224.7 498.7,220.0 500.7,209.1" fill="none" stroke="#8c6068" stroke-width="1.05" stroke-linejoin="round"/>
<circle cx="34.1" cy="199.5" r="0.95" fill="#9c97b5"/>
<circle cx="46" cy="218.9" r="0.95" fill="#9c97b5"/>
<circle cx="48.4" cy="208.7" r="0.95" fill="#9c97b5"/>
<circle cx="59.1" cy="196.8" r="0.95" fill="#9c97b5"/>
<circle cx="73" cy="211.8" r="0.95" fill="#9c97b5"/>
<circle cx="75" cy="216.9" r="0.95" fill="#9c97b5"/>
<circle cx="85.7" cy="230.2" r="0.95" fill="#9c97b5"/>
<circle cx="99.1" cy="198.5" r="0.95" fill="#9c97b5"/>
<circle cx="101.1" cy="209.7" r="0.95" fill="#9c97b5"/>
<circle cx="112.4" cy="206.7" r="0.95" fill="#9c97b5"/>
<circle cx="114.4" cy="227.1" r="0.95" fill="#9c97b5"/>
<circle cx="125.7" cy="213.8" r="0.95" fill="#9c97b5"/>
<circle cx="127.7" cy="202.6" r="0.95" fill="#9c97b5"/>
<circle cx="139" cy="213.8" r="0.95" fill="#9c97b5"/>
<circle cx="141" cy="232.2" r="0.95" fill="#9c97b5"/>
<circle cx="152.3" cy="206.7" r="0.95" fill="#9c97b5"/>
<circle cx="154.8" cy="229.2" r="0.95" fill="#9c97b5"/>
<circle cx="167.8" cy="196.8" r="0.95" fill="#9c97b5"/>
<circle cx="181.5" cy="200.9" r="0.95" fill="#9c97b5"/>
<circle cx="181.5" cy="204.2" r="0.95" fill="#9c97b5"/>
<circle cx="192.7" cy="202.2" r="0.95" fill="#9c97b5"/>
<circle cx="194.8" cy="198.5" r="0.95" fill="#9c97b5"/>
<circle cx="206" cy="209.7" r="0.95" fill="#9c97b5"/>
<circle cx="208.1" cy="215.9" r="0.95" fill="#9c97b5"/>
<circle cx="221.4" cy="230.2" r="0.95" fill="#9c97b5"/>
<circle cx="232.8" cy="236.3" r="0.95" fill="#9c97b5"/>
<circle cx="245.5" cy="204.2" r="0.95" fill="#9c97b5"/>
<circle cx="258.8" cy="236.3" r="0.95" fill="#9c97b5"/>
<circle cx="260.6" cy="225" r="0.95" fill="#9c97b5"/>
<circle cx="270.2" cy="218.2" r="0.95" fill="#9c97b5"/>
<circle cx="273.5" cy="209.1" r="0.95" fill="#9c97b5"/>
<circle cx="285.3" cy="228.5" r="0.95" fill="#9c97b5"/>
<circle cx="287.9" cy="217.4" r="0.95" fill="#9c97b5"/>
<circle cx="298.6" cy="232.9" r="0.95" fill="#9c97b5"/>
<circle cx="301.3" cy="222" r="0.95" fill="#9c97b5"/>
<circle cx="312.1" cy="233.7" r="0.95" fill="#9c97b5"/>
<circle cx="314.6" cy="218.9" r="0.95" fill="#9c97b5"/>
<circle cx="325.2" cy="224.7" r="0.95" fill="#9c97b5"/>
<circle cx="327.9" cy="217.9" r="0.95" fill="#9c97b5"/>
<circle cx="338.7" cy="225.5" r="0.95" fill="#9c97b5"/>
<circle cx="341.2" cy="205.6" r="0.95" fill="#9c97b5"/>
<circle cx="351.8" cy="225.5" r="0.95" fill="#9c97b5"/>
<circle cx="354.5" cy="212.8" r="0.95" fill="#9c97b5"/>
<circle cx="365.2" cy="225.1" r="0.95" fill="#9c97b5"/>
<circle cx="367.7" cy="215.2" r="0.95" fill="#9c97b5"/>
<circle cx="378.5" cy="226.1" r="0.95" fill="#9c97b5"/>
<circle cx="381.2" cy="213.2" r="0.95" fill="#9c97b5"/>
<circle cx="391.8" cy="222.6" r="0.95" fill="#9c97b5"/>
<circle cx="394.3" cy="214.8" r="0.95" fill="#9c97b5"/>
<circle cx="405.1" cy="232.6" r="0.95" fill="#9c97b5"/>
<circle cx="407.8" cy="225.5" r="0.95" fill="#9c97b5"/>
<circle cx="418.6" cy="241.6" r="0.95" fill="#9c97b5"/>
<circle cx="420.9" cy="232.7" r="0.95" fill="#9c97b5"/>
<circle cx="431.4" cy="245.7" r="0.95" fill="#9c97b5"/>
<circle cx="434.3" cy="237.2" r="0.95" fill="#9c97b5"/>
<circle cx="445.9" cy="251.8" r="0.95" fill="#9c97b5"/>
<circle cx="447.4" cy="239.8" r="0.95" fill="#9c97b5"/>
<circle cx="458.5" cy="226.7" r="0.95" fill="#9c97b5"/>
<circle cx="460.9" cy="224.7" r="0.95" fill="#9c97b5"/>
<circle cx="472.2" cy="205" r="0.95" fill="#9c97b5"/>
<circle cx="474.5" cy="212.3" r="0.95" fill="#9c97b5"/>
<circle cx="485.4" cy="224.7" r="0.95" fill="#9c97b5"/>
<circle cx="498.7" cy="220" r="0.95" fill="#9c97b5"/>
<circle cx="500.7" cy="209.1" r="0.95" fill="#9c97b5"/>
<polyline points="34.1,186.6 46.0,190.7 48.4,187.2 59.1,189.9 61.3,192.7 72.6,192.7 75.0,188.6 85.7,251.5 88.3,239.5 99.1,209.5 101.1,204.2 112.4,220.0 114.4,243.1 125.7,220.0 127.7,199.5 139.0,206.2 141.0,233.7 152.3,192.3 154.8,225.5 165.7,191.9 168.2,190.3 178.8,211.2 181.1,200.5 191.7,203.0 194.4,195.4 205.4,197.4 208.1,190.7 219.4,218.9 221.4,220.6 232.2,203.6 234.2,209.1 245.5,191.9 247.9,191.9 258.8,216.5 260.8,237.4 271.8,208.5 274.1,204.8 285.4,213.2 288.0,214.4 298.6,206.7 301.3,215.9 312.1,197.4 314.2,205.6 325.2,205.6 327.9,217.3 338.7,195.4 341.2,198.5 351.8,194.0 354.5,200.1 365.2,191.9 367.7,198.9 378.5,191.9 381.2,197.4 391.8,194.4 394.3,196.8 405.1,193.4 407.8,200.1 418.4,228.8 420.9,208.3 431.9,190.3 434.3,209.1 445.0,222.6 447.2,204.2 458.5,208.3 460.9,214.4 472.2,202.2 474.5,212.4 485.3,215.2 487.6,214.2 498.7,197.4 500.7,191.3" fill="none" stroke="#dccf50" stroke-width="1.3" stroke-linejoin="round"/>
<circle cx="34.1" cy="186.6" r="1.15" fill="#7e7a34"/>
<circle cx="46" cy="190.7" r="1.15" fill="#7e7a34"/>
<circle cx="48.4" cy="187.2" r="1.15" fill="#7e7a34"/>
<circle cx="59.1" cy="189.9" r="1.15" fill="#7e7a34"/>
<circle cx="61.3" cy="192.7" r="1.15" fill="#7e7a34"/>
<circle cx="72.6" cy="192.7" r="1.15" fill="#7e7a34"/>
<circle cx="75" cy="188.6" r="1.15" fill="#7e7a34"/>
<circle cx="85.7" cy="251.5" r="1.15" fill="#7e7a34"/>
<circle cx="88.3" cy="239.5" r="1.15" fill="#7e7a34"/>
<circle cx="99.1" cy="209.5" r="1.15" fill="#7e7a34"/>
<circle cx="101.1" cy="204.2" r="1.15" fill="#7e7a34"/>
<circle cx="112.4" cy="220" r="1.15" fill="#7e7a34"/>
<circle cx="114.4" cy="243.1" r="1.15" fill="#7e7a34"/>
<circle cx="125.7" cy="220" r="1.15" fill="#7e7a34"/>
<circle cx="127.7" cy="199.5" r="1.15" fill="#7e7a34"/>
<circle cx="139" cy="206.2" r="1.15" fill="#7e7a34"/>
<circle cx="141" cy="233.7" r="1.15" fill="#7e7a34"/>
<circle cx="152.3" cy="192.3" r="1.15" fill="#7e7a34"/>
<circle cx="154.8" cy="225.5" r="1.15" fill="#7e7a34"/>
<circle cx="165.7" cy="191.9" r="1.15" fill="#7e7a34"/>
<circle cx="168.2" cy="190.3" r="1.15" fill="#7e7a34"/>
<circle cx="178.8" cy="211.2" r="1.15" fill="#7e7a34"/>
<circle cx="181.1" cy="200.5" r="1.15" fill="#7e7a34"/>
<circle cx="191.7" cy="203" r="1.15" fill="#7e7a34"/>
<circle cx="194.4" cy="195.4" r="1.15" fill="#7e7a34"/>
<circle cx="205.4" cy="197.4" r="1.15" fill="#7e7a34"/>
<circle cx="208.1" cy="190.7" r="1.15" fill="#7e7a34"/>
<circle cx="219.4" cy="218.9" r="1.15" fill="#7e7a34"/>
<circle cx="221.4" cy="220.6" r="1.15" fill="#7e7a34"/>
<circle cx="232.2" cy="203.6" r="1.15" fill="#7e7a34"/>
<circle cx="234.2" cy="209.1" r="1.15" fill="#7e7a34"/>
<circle cx="245.5" cy="191.9" r="1.15" fill="#7e7a34"/>
<circle cx="247.9" cy="191.9" r="1.15" fill="#7e7a34"/>
<circle cx="258.8" cy="216.5" r="1.15" fill="#7e7a34"/>
<circle cx="260.8" cy="237.4" r="1.15" fill="#7e7a34"/>
<circle cx="271.8" cy="208.5" r="1.15" fill="#7e7a34"/>
<circle cx="274.1" cy="204.8" r="1.15" fill="#7e7a34"/>
<circle cx="285.4" cy="213.2" r="1.15" fill="#7e7a34"/>
<circle cx="288" cy="214.4" r="1.15" fill="#7e7a34"/>
<circle cx="298.6" cy="206.7" r="1.15" fill="#7e7a34"/>
<circle cx="301.3" cy="215.9" r="1.15" fill="#7e7a34"/>
<circle cx="312.1" cy="197.4" r="1.15" fill="#7e7a34"/>
<circle cx="314.2" cy="205.6" r="1.15" fill="#7e7a34"/>
<circle cx="325.2" cy="205.6" r="1.15" fill="#7e7a34"/>
<circle cx="327.9" cy="217.3" r="1.15" fill="#7e7a34"/>
<circle cx="338.7" cy="195.4" r="1.15" fill="#7e7a34"/>
<circle cx="341.2" cy="198.5" r="1.15" fill="#7e7a34"/>
<circle cx="351.8" cy="194" r="1.15" fill="#7e7a34"/>
<circle cx="354.5" cy="200.1" r="1.15" fill="#7e7a34"/>
<circle cx="365.2" cy="191.9" r="1.15" fill="#7e7a34"/>
<circle cx="367.7" cy="198.9" r="1.15" fill="#7e7a34"/>
<circle cx="378.5" cy="191.9" r="1.15" fill="#7e7a34"/>
<circle cx="381.2" cy="197.4" r="1.15" fill="#7e7a34"/>
<circle cx="391.8" cy="194.4" r="1.15" fill="#7e7a34"/>
<circle cx="394.3" cy="196.8" r="1.15" fill="#7e7a34"/>
<circle cx="405.1" cy="193.4" r="1.15" fill="#7e7a34"/>
<circle cx="407.8" cy="200.1" r="1.15" fill="#7e7a34"/>
<circle cx="418.4" cy="228.8" r="1.15" fill="#7e7a34"/>
<circle cx="420.9" cy="208.3" r="1.15" fill="#7e7a34"/>
<circle cx="431.9" cy="190.3" r="1.15" fill="#7e7a34"/>
<circle cx="434.3" cy="209.1" r="1.15" fill="#7e7a34"/>
<circle cx="445" cy="222.6" r="1.15" fill="#7e7a34"/>
<circle cx="447.2" cy="204.2" r="1.15" fill="#7e7a34"/>
<circle cx="458.5" cy="208.3" r="1.15" fill="#7e7a34"/>
<circle cx="460.9" cy="214.4" r="1.15" fill="#7e7a34"/>
<circle cx="472.2" cy="202.2" r="1.15" fill="#7e7a34"/>
<circle cx="474.5" cy="212.4" r="1.15" fill="#7e7a34"/>
<circle cx="485.3" cy="215.2" r="1.15" fill="#7e7a34"/>
<circle cx="487.6" cy="214.2" r="1.15" fill="#7e7a34"/>
<circle cx="498.7" cy="197.4" r="1.15" fill="#7e7a34"/>
<circle cx="500.7" cy="191.3" r="1.15" fill="#7e7a34"/>
<polyline points="34.5,260.3 66.4,284.8 100.1,289.4 131.8,289.4 169.8,283.6 201.3,267.9 236.9,243.3 267.8,207.0 305.4,198.1 337.1,198.5 374.4,203.0 405.8,204.2 440.5,220.0 472.2,244.3 503.0,248.7" fill="none" stroke="#4f8068" stroke-width="1.0" stroke-dasharray="2,1.4"/>
<path d="M32.3,258.1L36.7,262.5M32.3,262.5L36.7,258.1" stroke="#459555" stroke-width="0.9"/>
<path d="M64.2,282.6L68.60000000000001,287.0M64.2,287.0L68.60000000000001,282.6" stroke="#459555" stroke-width="0.9"/>
<path d="M97.89999999999999,287.2L102.3,291.59999999999997M97.89999999999999,291.59999999999997L102.3,287.2" stroke="#459555" stroke-width="0.9"/>
<path d="M129.60000000000002,287.2L134.0,291.59999999999997M129.60000000000002,291.59999999999997L134.0,287.2" stroke="#459555" stroke-width="0.9"/>
<path d="M167.60000000000002,281.40000000000003L172.0,285.8M167.60000000000002,285.8L172.0,281.40000000000003" stroke="#459555" stroke-width="0.9"/>
<path d="M199.10000000000002,265.7L203.5,270.09999999999997M199.10000000000002,270.09999999999997L203.5,265.7" stroke="#459555" stroke-width="0.9"/>
<path d="M234.70000000000002,241.10000000000002L239.1,245.5M234.70000000000002,245.5L239.1,241.10000000000002" stroke="#459555" stroke-width="0.9"/>
<path d="M265.6,204.8L270.0,209.2M265.6,209.2L270.0,204.8" stroke="#459555" stroke-width="0.9"/>
<path d="M303.2,195.9L307.59999999999997,200.29999999999998M303.2,200.29999999999998L307.59999999999997,195.9" stroke="#459555" stroke-width="0.9"/>
<path d="M334.90000000000003,196.3L339.3,200.7M334.90000000000003,200.7L339.3,196.3" stroke="#459555" stroke-width="0.9"/>
<path d="M372.2,200.8L376.59999999999997,205.2M372.2,205.2L376.59999999999997,200.8" stroke="#459555" stroke-width="0.9"/>
<path d="M403.6,202.0L408.0,206.39999999999998M403.6,206.39999999999998L408.0,202.0" stroke="#459555" stroke-width="0.9"/>
<path d="M438.3,217.8L442.7,222.2M438.3,222.2L442.7,217.8" stroke="#459555" stroke-width="0.9"/>
<path d="M470.0,242.10000000000002L474.4,246.5M470.0,246.5L474.4,242.10000000000002" stroke="#459555" stroke-width="0.9"/>
<path d="M500.8,246.5L505.2,250.89999999999998M500.8,250.89999999999998L505.2,246.5" stroke="#459555" stroke-width="0.9"/>
<text x="268.0" y="182.8" class="ti">P2</text>
<text x="273.9" y="319.9" class="doy">DOY</text>
<text x="265.0" y="336.2" class="sub">(<tspan class="subl">b</tspan>)</text>
<text transform="translate(12.7,278.00) rotate(-90)" class="yl" textLength="27.3" lengthAdjust="spacingAndGlyphs">SSM</text>
<text transform="translate(15.9,250.40) rotate(-90)" class="ss" textLength="10.0" lengthAdjust="spacingAndGlyphs">S1</text>
<text transform="translate(12.8,237.70) rotate(-90)" class="yl" textLength="41.6" lengthAdjust="spacingAndGlyphs">(m<tspan class="sp" dy="-3.8">3</tspan><tspan dy="3.8">/m</tspan><tspan class="sp" dy="-3.8">3</tspan><tspan dy="3.8">)</tspan></text>
<text transform="translate(530.8,237.85) rotate(-90) scale(1.058,1)" class="rl" text-anchor="middle">Rainfall (mm)</text>
<text transform="translate(545.5,238.0) rotate(-90) scale(1.026,1)" class="rl" text-anchor="middle">NDVI (%)</text>
</svg>
</body></html>
